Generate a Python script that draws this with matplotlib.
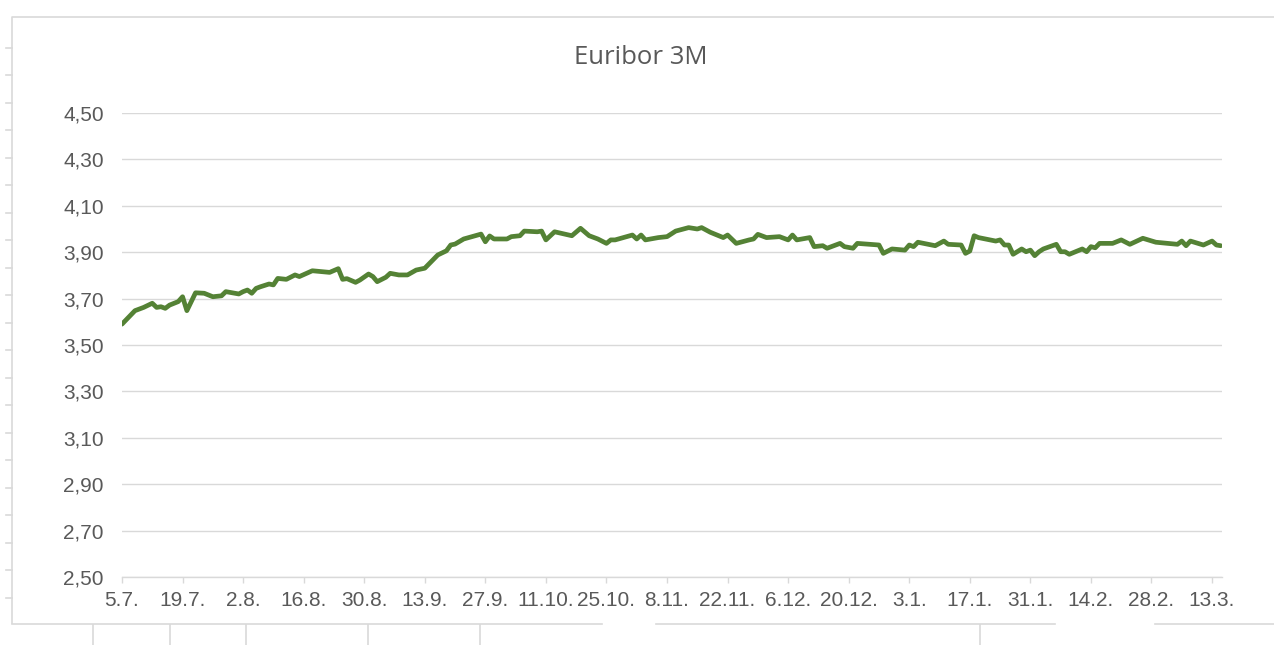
import matplotlib
matplotlib.use("Agg")
import matplotlib.pyplot as plt
from matplotlib.lines import Line2D
import pandas as pd

# Euribor 3M (days counted from 5.7.2023)
start_date = "2023-07-05"
day_offsets = [
    0, 3, 5, 7, 8, 9, 10, 11, 13, 14, 15, 17, 19, 21, 23, 24, 27, 28, 29, 30,
    31, 32, 34, 35, 36, 38, 40, 41, 44, 48, 50, 51, 52, 54, 55, 57, 58, 59, 61, 62,
    64, 66, 68, 70, 72, 73, 75, 76, 77, 79, 83, 84, 85, 86, 89, 90, 92, 93, 96, 97,
    98, 100, 104, 106, 108, 110, 112, 113, 114, 118, 119, 120, 121, 124, 126, 128, 129, 131, 133, 134,
    136, 139, 140, 142, 145, 146, 147, 149, 152, 154, 155, 156, 159, 160, 162, 163, 166, 167, 169, 170,
    175, 176, 178, 181, 182, 183, 184, 188, 190, 191, 194, 195, 196, 197, 198, 202, 203, 204, 205, 206,
    208, 209, 210, 211, 212, 213, 216, 217, 218, 219, 222, 223, 224, 225, 226, 229, 231, 233, 236, 239,
    244, 245, 246, 247, 250, 252, 253, 254,
]
rates = [
    3.590, 3.648, 3.662, 3.680, 3.662, 3.665, 3.658, 3.672, 3.687, 3.708,
    3.648, 3.725, 3.723, 3.708, 3.712, 3.730, 3.720, 3.730, 3.737, 3.723,
    3.744, 3.751, 3.763, 3.759, 3.787, 3.783, 3.802, 3.795, 3.820, 3.813,
    3.829, 3.783, 3.786, 3.770, 3.780, 3.806, 3.795, 3.773, 3.792, 3.809,
    3.802, 3.802, 3.823, 3.831, 3.869, 3.888, 3.906, 3.931, 3.935, 3.957,
    3.978, 3.945, 3.970, 3.957, 3.957, 3.967, 3.971, 3.991, 3.988, 3.991,
    3.953, 3.988, 3.971, 4.003, 3.971, 3.957, 3.938, 3.953, 3.953, 3.974,
    3.957, 3.974, 3.953, 3.963, 3.967, 3.991, 3.996, 4.006, 4.000, 4.006,
    3.986, 3.963, 3.974, 3.938, 3.953, 3.957, 3.977, 3.963, 3.967, 3.953,
    3.974, 3.953, 3.963, 3.924, 3.928, 3.917, 3.938, 3.924, 3.917, 3.938,
    3.931, 3.895, 3.914, 3.909, 3.931, 3.924, 3.943, 3.928, 3.948, 3.934,
    3.931, 3.895, 3.905, 3.971, 3.963, 3.948, 3.953, 3.931, 3.931, 3.891,
    3.914, 3.902, 3.909, 3.885, 3.902, 3.914, 3.934, 3.902, 3.902, 3.891,
    3.914, 3.902, 3.924, 3.919, 3.938, 3.938, 3.953, 3.934, 3.960, 3.943,
    3.934, 3.948, 3.928, 3.948, 3.931, 3.948, 3.931, 3.928,
]

x_labels = ["5.7.", "19.7.", "2.8.", "16.8.", "30.8.", "13.9.", "27.9.",
            "11.10.", "25.10.", "8.11.", "22.11.", "6.12.", "20.12.", "3.1.",
            "17.1.", "31.1.", "14.2.", "28.2.", "13.3."]
y_ticks = [2.5, 2.7, 2.9, 3.1, 3.3, 3.5, 3.7, 3.9, 4.1, 4.3, 4.5]

W, H = 1274, 645
GRID = "#d9d9d9"
TEXT = "#595959"

plt.rcParams["font.family"] = ["Liberation Sans", "DejaVu Sans"]

dates = pd.Timestamp(start_date) + pd.to_timedelta(day_offsets, unit="D")
tick_dates = pd.date_range(start_date, periods=len(x_labels), freq="14D")

fig = plt.figure(figsize=(W / 100, H / 100), dpi=100)
ax = fig.add_axes([122 / W, 1 - 577 / H, 1100 / W, 464 / H])

ax.plot(dates, rates, color="#548235", lw=3.4, solid_joinstyle="round",
        solid_capstyle="round", zorder=3)

ax.set_ylim(2.5, 4.5)
ax.set_xlim(pd.Timestamp(start_date), pd.Timestamp(start_date) + pd.Timedelta(days=254.3))
ax.set_yticks(y_ticks)
ax.set_yticklabels([f"{v:.2f}".replace(".", ",") for v in y_ticks])
ax.set_xticks(tick_dates)
ax.set_xticklabels(x_labels)

ax.grid(axis="y", color=GRID, lw=1.0)
ax.set_axisbelow(True)
for side in ["top", "right", "left"]:
    ax.spines[side].set_visible(False)
ax.spines["bottom"].set_color(GRID)
ax.spines["bottom"].set_linewidth(1.0)
ax.tick_params(axis="y", length=0, pad=13, labelsize=15, labelcolor=TEXT)
ax.tick_params(axis="x", length=4, width=1, color=GRID, pad=6,
               labelsize=15, labelcolor=TEXT)

fig.text(641 / W, 1 - 57 / H, "Euribor 3M", ha="center", va="center",
         fontsize=18.5, color=TEXT, family=["Open Sans", "DejaVu Sans"])

# screenshot frame remnants around the chart
def px_line(xs, ys, **kw):
    fig.add_artist(Line2D([x / W for x in xs], [1 - y / H for y in ys],
                          transform=fig.transFigure, color=GRID, lw=1.2, **kw))

px_line([12, 12, W], [623, 17, 17])
for seg in [(12, 602), (656, 1055), (1155, W)]:
    px_line(list(seg), [624, 624])
for xv in [93, 170, 246, 368, 480, 980]:
    px_line([xv, xv], [625, H])
for k in range(21):
    yv = 47.7 + 27.5 * k
    px_line([6, 12], [yv, yv])

fig.savefig("out.png", dpi=100)
